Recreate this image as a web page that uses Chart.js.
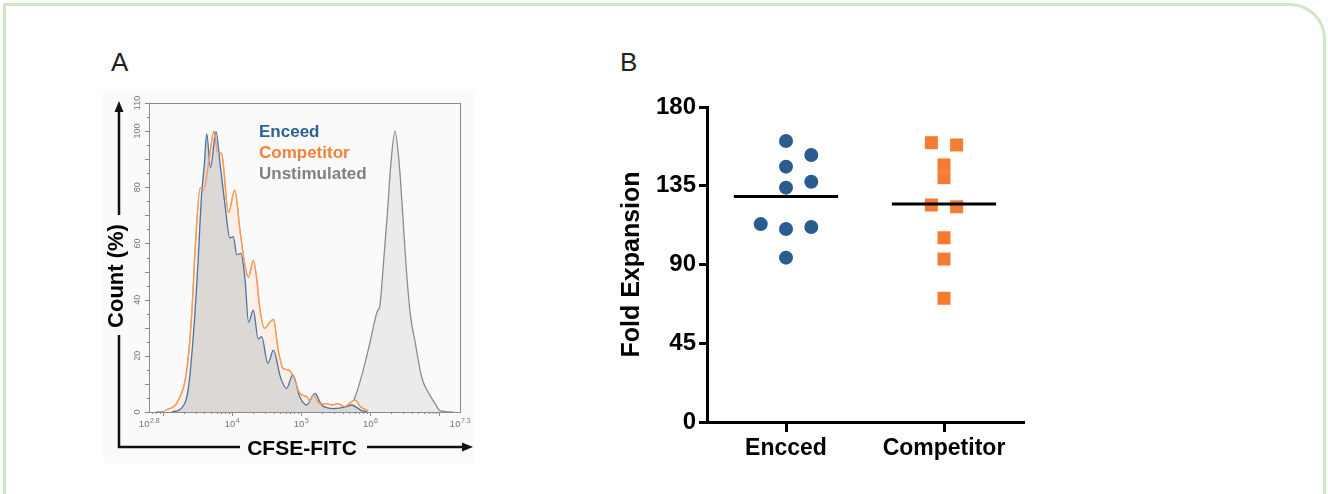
<!DOCTYPE html>
<html>
<head>
<meta charset="utf-8">
<script src="https://cdn.jsdelivr.net/npm/chart.js@4.4.1/dist/chart.umd.min.js"></script>
<style>
  html, body { margin: 0; padding: 0; background: #fff; width: 1328px; height: 494px; overflow: hidden; }
  #card { position: absolute; left: 3px; top: 3px; width: 1323px; height: 560px; box-sizing: border-box;
          border: 3px solid #d0e8c2; border-top-right-radius: 36px; }
  .lab { position: absolute; font: 26px/26px 'Liberation Sans', Arial, sans-serif; color: #222; }
  canvas { position: absolute; }
</style>
</head>
<body>
<div id="card"></div>
<div class="lab" style="left:111px;top:49px">A</div>
<div class="lab" style="left:620px;top:49px">B</div>
<canvas id="hist" width="390" height="385" style="left:95px;top:85px"></canvas>
<canvas id="dots" width="440" height="385" style="left:600px;top:85px"></canvas>
<script>
// --- PANEL A: CFSE histogram (x = log10 of CFSE-FITC, y = count %) ---
const encX = [3.13, 3.27, 3.37, 3.45, 3.51, 3.56, 3.60, 3.635, 3.69, 3.77, 3.83, 3.90, 3.97, 4.02, 4.07, 4.13, 4.19, 4.24, 4.31, 4.38, 4.43, 4.52, 4.60, 4.70, 4.79, 4.88, 4.98, 5.08, 5.20, 5.30, 5.47, 5.66, 5.73, 5.87, 5.96];
const encY = [0, 1.4, 8.5, 30, 53.5, 77, 88, 99, 87, 99.8, 88, 73.7, 62, 62.4, 56, 56.5, 47, 32, 36.3, 26, 26.8, 17.3, 22, 12.6, 8.4, 13.2, 5.5, 2.5, 6.6, 2.5, 1.2, 1.9, 2.5, 0.6, 0];

const compX = [3.03, 3.22, 3.35, 3.42, 3.47, 3.54, 3.59, 3.66, 3.74, 3.79, 3.85, 3.95, 4.04, 4.12, 4.19, 4.24, 4.31, 4.36, 4.40, 4.47, 4.55, 4.60, 4.67, 4.74, 4.82, 4.89, 4.98, 5.08, 5.13, 5.18, 5.27, 5.37, 5.44, 5.53, 5.63, 5.78, 5.86, 5.97];
const compY = [0.5, 4, 15.6, 35.7, 59, 79.7, 79, 88, 100, 92.5, 92, 71, 79, 64, 52, 48, 54, 47, 37.5, 29.8, 32, 33, 22, 15.5, 15, 12.6, 6.7, 5.5, 4, 6, 3, 3, 2.5, 3, 1.9, 4.3, 1.9, 0.5];

const unsX = [2.9, 5.60, 5.70, 5.80, 5.90, 6.00, 6.10, 6.14, 6.19, 6.25, 6.30, 6.36, 6.42, 6.47, 6.52, 6.58, 6.65, 6.75, 6.85, 6.94, 7.01, 7.2];
const unsY = [0, 0, 1, 6.6, 15, 25, 35.6, 37.8, 52, 71, 88.5, 100, 88.5, 71, 52, 35, 25, 12, 6.6, 3, 0.5, 0];

const histLegend = ['Enceed', 'Competitor', 'Unstimulated'];
const countTicks = [0, 20, 40, 60, 80, 100, 110];
const cfseTickExp = [2.8, 4, 5, 6, 7.3];

// --- PANEL B: fold expansion ---
const groups = ['Encced', 'Competitor'];
const encFold = [160.6, 152.6, 145.9, 137.3, 133.9, 113.1, 111.4, 110.3, 93.9];
const encSpread = [0, 0.16, 0, 0.16, 0, -0.16, 0.16, 0, 0];
const compFold = [159.6, 158.3, 146.9, 139.6, 124.0, 123.0, 105.3, 93.1, 70.7];
const compSpread = [-0.08, 0.08, 0, 0, -0.08, 0.08, 0, 0, 0];
const meanFold = [128.8, 124.6];

const FONT = "'Liberation Sans', Arial, sans-serif";
Chart.defaults.font.family = FONT;

const pts = (xs, ys) => xs.map((x, i) => ({ x: x, y: ys[i] }));

// frame, ticks, arrows and labels round the histogram
const histDecor = {
    id: 'histDecor',
    beforeDraw(chart) {
        const ctx = chart.ctx;
        ctx.save();
        ctx.fillStyle = '#fafafa';
        ctx.fillRect(8, 6, 371, 372);
        ctx.restore();
    },
    afterDraw(chart) {
        const { ctx, chartArea: a, scales: { x: xs, y: ys } } = chart;
        ctx.save();

        // plot frame
        ctx.strokeStyle = '#8a8a8a';
        ctx.lineWidth = 1;
        ctx.strokeRect(a.left + 0.5, a.top + 0.5, a.width, a.height);

        // y ticks
        ctx.beginPath();
        for (let v = 0; v <= 110; v += 5) {
            const y = Math.round(ys.getPixelForValue(v)) + 0.5;
            const len = v % 10 === 0 ? 4 : 2;
            ctx.moveTo(a.left - len, y);
            ctx.lineTo(a.left, y);
        }
        // x ticks (log minor)
        for (let n = 2; n <= 7; n++) {
            for (let k = 1; k <= 9; k++) {
                const e = n + Math.log10(k);
                if (e < 2.8 || e > 7.3) continue;
                const x = Math.round(xs.getPixelForValue(e)) + 0.5;
                const len = k === 1 ? 4 : 2;
                ctx.moveTo(x, a.bottom);
                ctx.lineTo(x, a.bottom + len);
            }
        }
        ctx.stroke();

        // y tick labels (rotated)
        ctx.fillStyle = '#777';
        ctx.font = '9px ' + FONT;
        ctx.textAlign = 'center';
        ctx.textBaseline = 'middle';
        countTicks.forEach(v => {
            ctx.save();
            ctx.translate(43, ys.getPixelForValue(v));
            ctx.rotate(-Math.PI / 2);
            ctx.fillText(String(v), 0, 0);
            ctx.restore();
        });

        // x tick labels 10^n
        ctx.textAlign = 'left';
        ctx.textBaseline = 'alphabetic';
        cfseTickExp.forEach(e => {
            const base = '10', sup = String(e);
            ctx.font = '9.5px ' + FONT;
            const wb = ctx.measureText(base).width;
            ctx.font = '7px ' + FONT;
            const ws = ctx.measureText(sup).width;
            const x0 = xs.getPixelForValue(e) - (wb + ws) / 2;
            ctx.font = '9.5px ' + FONT;
            ctx.fillText(base, x0, 342);
            ctx.font = '7px ' + FONT;
            ctx.fillText(sup, x0 + wb + 0.5, 338);
        });

        // legend
        const legendColors = ['#2d5f99', '#f2803a', '#808080'];
        ctx.font = 'bold 17px ' + FONT;
        histLegend.forEach((t, i) => {
            ctx.fillStyle = legendColors[i];
            ctx.fillText(t, 164, 52 + i * 21.2);
        });

        // axis arrows
        ctx.strokeStyle = '#111';
        ctx.fillStyle = '#111';
        ctx.lineWidth = 2.5;
        ctx.beginPath();
        ctx.moveTo(24, 24); ctx.lineTo(24, 130);
        ctx.moveTo(24, 250); ctx.lineTo(24, 362);
        ctx.lineTo(145, 362);
        ctx.moveTo(272, 362); ctx.lineTo(370, 362);
        ctx.stroke();
        ctx.beginPath();
        ctx.moveTo(24, 16); ctx.lineTo(19.5, 27); ctx.lineTo(28.5, 27); ctx.closePath();
        ctx.moveTo(378, 362); ctx.lineTo(367, 357.5); ctx.lineTo(367, 366.5); ctx.closePath();
        ctx.fill();

        // axis titles
        ctx.fillStyle = '#000';
        ctx.font = 'bold 21px ' + FONT;
        ctx.textAlign = 'center';
        ctx.fillText('CFSE-FITC', 207, 370);
        ctx.font = 'bold 22px ' + FONT;
        ctx.translate(28, 191);
        ctx.rotate(-Math.PI / 2);
        ctx.fillText('Count (%)', 0, 0);
        ctx.restore();
    }
};

new Chart(document.getElementById('hist'), {
    type: 'line',
    data: {
        datasets: [
            { label: 'Competitor', data: pts(compX, compY), borderColor: '#f39b5e', backgroundColor: '#fcefe5', fill: 'origin', order: 3 },
            { label: 'Enceed', data: pts(encX, encY), borderColor: '#4873a5', backgroundColor: '#dbd8d5', fill: 'origin', order: 2 },
            { label: 'Competitor outline', data: pts(compX, compY), borderColor: '#f39b5e', fill: false, order: 1 },
            { label: 'Unstimulated', data: pts(unsX, unsY), borderColor: '#8d8d8d', backgroundColor: '#ebebeb', fill: 'origin', order: 4 }
        ]
    },
    options: {
        responsive: false,
        animation: false,
        devicePixelRatio: 1,
        layout: { padding: { left: 54, top: 18, right: 25, bottom: 58 } },
        elements: {
            point: { radius: 0 },
            line: { borderWidth: 1.3, cubicInterpolationMode: 'monotone' }
        },
        scales: {
            x: { type: 'linear', min: 2.8, max: 7.3, display: false },
            y: { min: 0, max: 110, display: false }
        },
        plugins: { legend: { display: false }, tooltip: { enabled: false } }
    },
    plugins: [histDecor]
});

// --- PANEL B CHART ---
const axisFont = (size) => ({ family: FONT, size: size, weight: 'bold' });
const MEAN_HALF = 0.33;

new Chart(document.getElementById('dots'), {
    type: 'scatter',
    data: {
        datasets: [
            { label: 'Encced mean', data: [{ x: 1 - MEAN_HALF, y: meanFold[0] }, { x: 1 + MEAN_HALF, y: meanFold[0] }],
              showLine: true, borderColor: '#000', borderWidth: 3, pointRadius: 0, order: 0 },
            { label: 'Competitor mean', data: [{ x: 2 - MEAN_HALF, y: meanFold[1] }, { x: 2 + MEAN_HALF, y: meanFold[1] }],
              showLine: true, borderColor: '#000', borderWidth: 3, pointRadius: 0, order: 0 },
            { label: groups[0], data: encFold.map((v, i) => ({ x: 1 + encSpread[i], y: v })),
              pointStyle: 'circle', pointRadius: 7, backgroundColor: '#2b5c8f', pointBorderWidth: 0, order: 1 },
            { label: groups[1], data: compFold.map((v, i) => ({ x: 2 + compSpread[i], y: v })),
              pointStyle: 'rect', pointRadius: 9.2, backgroundColor: '#f47d32', pointBorderWidth: 0, order: 1 }
        ]
    },
    options: {
        responsive: false,
        animation: false,
        devicePixelRatio: 1,
        layout: { padding: { top: 22, right: 17, left: 0, bottom: 0 } },
        scales: {
            x: {
                type: 'linear', min: 0.5, max: 2.5,
                afterBuildTicks: s => { s.ticks = groups.map((g, i) => ({ value: i + 1 })); },
                afterFit: s => { s.height = 48; },
                ticks: { callback: (v, i) => groups[i], font: axisFont(23), color: '#000', padding: 3, maxRotation: 0, autoSkip: false },
                grid: { drawOnChartArea: false, tickLength: 10, color: '#000', lineWidth: 3 },
                border: { color: '#000', width: 3 }
            },
            y: {
                min: 0, max: 180,
                afterFit: s => { s.width = 107; },
                ticks: { stepSize: 45, font: axisFont(24), color: '#000', padding: 3 },
                grid: { drawOnChartArea: false, tickLength: 8, color: '#000', lineWidth: 3 },
                border: { color: '#000', width: 3 },
                title: { display: true, text: 'Fold Expansion', font: axisFont(25), color: '#000', padding: { top: 17, bottom: 0 } }
            }
        },
        plugins: { legend: { display: false }, tooltip: { enabled: false } }
    }
});
</script>
</body>
</html>
